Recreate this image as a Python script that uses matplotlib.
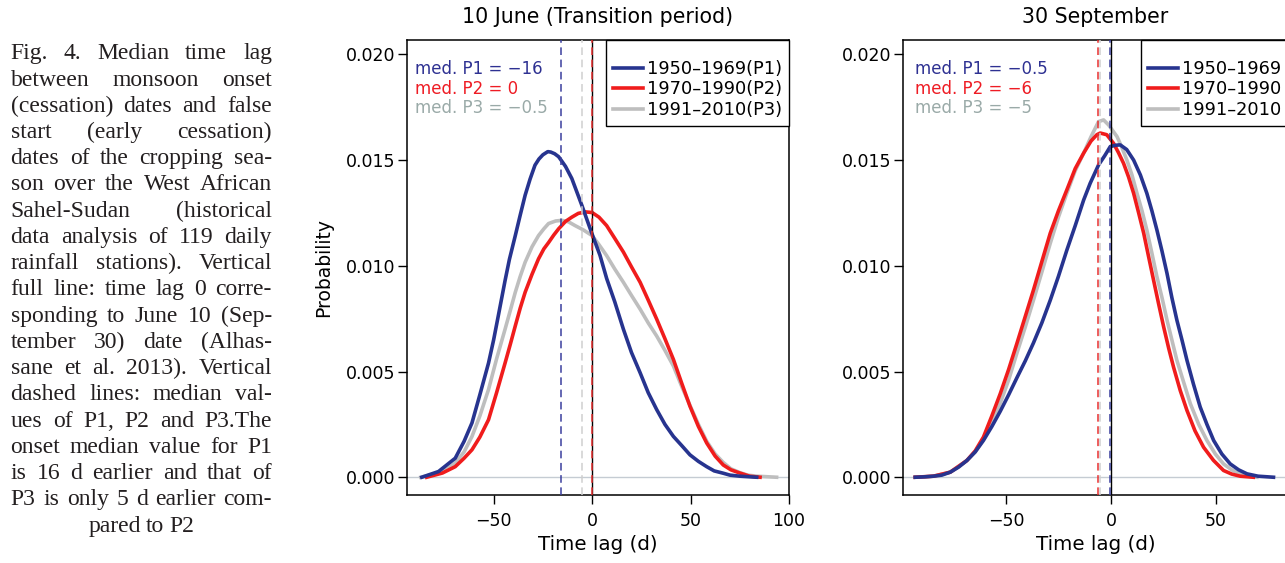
import matplotlib.pyplot as plt
from matplotlib.lines import Line2D

plt.rcParams['font.family'] = 'DejaVu Sans'

# ---- data: time lag (d) vs probability ----
# 10 June panel
jun_p1_x = [-86.5, -78, -69.5, -65, -61, -57, -52.6, -50, -47.5, -44.2,
            -42, -39, -36.5, -34, -31.5, -29, -27, -25, -22.5, -21,
            -19, -17, -15, -13.5, -10.3, -5.2, 0, 4, 7.4, 11.5,
            15.9, 20, 24.4, 28.5, 32.8, 37, 41.3, 45.5, 49.7, 54,
            58.2, 62, 66.6, 70, 75, 83.6]
jun_p1_y = [0, 0.00027, 0.0009, 0.0017, 0.00257, 0.0039, 0.0054, 0.0065, 0.0077, 0.0093,
            0.0103, 0.01143, 0.0124, 0.01334, 0.0141, 0.01476, 0.01505, 0.01525, 0.0154, 0.01538,
            0.0153, 0.01516, 0.0149, 0.0147, 0.01413, 0.01286, 0.0115, 0.0105, 0.0094, 0.0083,
            0.0070, 0.0059, 0.00494, 0.004, 0.0032, 0.0025, 0.00193, 0.0015, 0.00106, 0.00075,
            0.0005, 0.0003, 0.00019, 0.0001, 0.00005, 0]
jun_p2_x = [-84, -80, -76, -69.5, -65, -61, -57, -52.6, -48.5, -44.2,
            -41.5, -39, -36.5, -34, -30.5, -27.2, -24.5, -22.1, -19.5, -17,
            -13.5, -10.3, -7, -3.5, 0, 3.5, 7.4, 11.5, 15.9, 20,
            24.4, 28.5, 32.8, 37, 41.3, 45.5, 49.7, 54, 58.2, 62.5,
            66.6, 70.5, 75, 80, 85.3]
jun_p2_y = [0, 0.0001, 0.0002, 0.0005, 0.0009, 0.0013, 0.0019, 0.00272, 0.004, 0.0054,
            0.0063, 0.00716, 0.008, 0.00875, 0.0096, 0.01033, 0.0108, 0.0111, 0.01145, 0.01175,
            0.0121, 0.0123, 0.01248, 0.01255, 0.01252, 0.0123, 0.0119, 0.0113, 0.01065, 0.00995,
            0.00922, 0.00838, 0.00748, 0.00655, 0.00557, 0.00445, 0.00336, 0.0024, 0.00162, 0.001,
            0.00058, 0.00035, 0.0002, 0.00005, 0]
jun_p3_x = [-87, -78, -73.5, -69.5, -65, -61, -57, -52.6, -48.5, -44.2,
            -41.5, -39, -36.5, -34, -30.5, -27.2, -24.5, -22.1, -18.5, -15.3,
            -12, -8.6, -4.5, 0, 3.5, 7.4, 11.5, 15.9, 20, 24.4,
            28.5, 32.8, 37, 41.3, 45.5, 49.7, 54, 58.2, 62.5, 66.6,
            70.5, 75, 79, 83.6, 93.7]
jun_p3_y = [0, 0.0002, 0.0004, 0.00067, 0.0012, 0.00193, 0.0029, 0.00415, 0.0056, 0.0070,
            0.0079, 0.00875, 0.0095, 0.01017, 0.0109, 0.01143, 0.01175, 0.012, 0.01212, 0.01215,
            0.01208, 0.0119, 0.0117, 0.01143, 0.0110, 0.01048, 0.00985, 0.00922, 0.0086, 0.00795,
            0.0073, 0.00668, 0.006, 0.00526, 0.0043, 0.0034, 0.0025, 0.0017, 0.0011, 0.0007,
            0.0004, 0.00022, 0.0001, 0.00005, 0]

# 30 September panel
sep_p1_x = [-93.2, -88.5, -84.5, -80.5, -76.5, -72.5, -68.6, -64.6, -60.7, -56.7,
            -52.7, -48.7, -44.8, -40.8, -36.9, -32.9, -28.9, -25, -21, -17,
            -13, -9.9, -5.9, -3, -0.3, 2, 4.4, 7.5, 10.8, 14,
            17.1, 19.5, 21.9, 24.3, 26.7, 29, 31.4, 33.8, 36.2, 39.3,
            42.5, 45.7, 48.9, 52.8, 56.8, 60.8, 64.8, 70, 77.4]
sep_p1_y = [0, 0.00002, 0.00005, 0.0001, 0.00024, 0.00048, 0.00079, 0.0012, 0.00174, 0.0024,
            0.00312, 0.0039, 0.0047, 0.0055, 0.00635, 0.0073, 0.00837, 0.0095, 0.01074, 0.0119,
            0.01311, 0.0139, 0.01477, 0.0152, 0.01564, 0.0157, 0.01572, 0.0155, 0.015, 0.0143,
            0.01343, 0.0126, 0.01169, 0.0107, 0.00964, 0.0085, 0.00743, 0.0065, 0.00553, 0.0044,
            0.00332, 0.0025, 0.00174, 0.0011, 0.00063, 0.00035, 0.00016, 0.00005, 0]
sep_p2_x = [-93.2, -84.5, -76.5, -68.6, -64.6, -60.7, -56.7, -52.7, -48.7, -44.8,
            -40.8, -36.9, -32.9, -28.9, -25, -21, -17, -13, -9.5, -6.7,
            -5.1, -2, 1.2, 3.6, 6, 8.4, 10.8, 13.2, 15.6, 18,
            20.3, 22.7, 25.1, 27.5, 29.8, 33, 36.2, 40, 44.1, 48.8,
            53.6, 57.5, 61.5, 67.8]
sep_p2_y = [0, 0.00005, 0.00024, 0.00079, 0.00125, 0.0019, 0.0029, 0.00395, 0.0051, 0.00632,
            0.0076, 0.00885, 0.0102, 0.01154, 0.0126, 0.01359, 0.0146, 0.01533, 0.0159, 0.0162,
            0.01628, 0.0162, 0.0158, 0.01535, 0.01485, 0.0142, 0.01343, 0.0125, 0.01154, 0.0104,
            0.00932, 0.0082, 0.00711, 0.0061, 0.00521, 0.0041, 0.00316, 0.0022, 0.00142, 0.0008,
            0.00032, 0.00015, 0.00005, 0]
sep_p3_x = [-93, -84.5, -76.5, -68.6, -64.6, -60.7, -56.7, -52.7, -48.7, -44.8,
            -40.8, -36.9, -32.9, -28.9, -25, -21, -17, -13, -9.5, -5.9,
            -3.5, -1, 2.9, 5.2, 7.6, 10, 12.4, 14.8, 17.1, 19.5,
            21.9, 24.3, 26.7, 29, 31.4, 34.6, 37.8, 41.8, 45.7, 49.7,
            53.6, 57.5, 61.5, 65.5, 69.5]
sep_p3_y = [0, 0.00005, 0.00024, 0.00079, 0.0012, 0.0018, 0.0026, 0.0035, 0.0046, 0.00586,
            0.0071, 0.00837, 0.0097, 0.01106, 0.0123, 0.01343, 0.0145, 0.01533, 0.0161, 0.01682,
            0.0169, 0.01665, 0.01611, 0.0156, 0.015, 0.0143, 0.01343, 0.0126, 0.01169, 0.0106,
            0.00948, 0.0085, 0.00743, 0.0065, 0.00553, 0.0045, 0.00348, 0.0025, 0.00174, 0.0011,
            0.00063, 0.00035, 0.00016, 0.00005, 0]

jun_medians = [-16, 0, -5]
sep_medians = [-0.5, -6, -5]
jun_med_text = ['med. P1 = \u221216', 'med. P2 = 0', 'med. P3 = \u22120.5']
sep_med_text = ['med. P1 = \u22120.5', 'med. P2 = \u22126', 'med. P3 = \u22125']
jun_labels = ['1950\u20131969(P1)', '1970\u20131990(P2)', '1991\u20132010(P3)']
sep_labels = ['1950\u20131969', '1970\u20131990', '1991\u20132010']
yticks = [0.0, 0.005, 0.010, 0.015, 0.020]

caption = [
    "Fig. 4. Median time lag",
    "between monsoon onset",
    "(cessation) dates and false",
    "start (early cessation)",
    "dates of the cropping sea-",
    "son over the West African",
    "Sahel-Sudan (historical",
    "data analysis of 119 daily",
    "rainfall stations). Vertical",
    "full line: time lag 0 corre-",
    "sponding to June 10 (Sep-",
    "tember 30) date (Alhas-",
    "sane et al. 2013). Vertical",
    "dashed lines: median val-",
    "ues of P1, P2 and P3.The",
    "onset median value for P1",
    "is 16 d earlier and that of",
    "P3 is only 5 d earlier com-",
    "pared to P2",
]

line_colors = ['#27348f', '#f01c1c', '#bebebe']
dash_colors = ['#3a3f9e', '#e83030', '#cfcfcf']
text_colors = ['#2e3192', '#ee1c24', '#9aaaa8']

W, H = 1285, 563
fig = plt.figure(figsize=(W / 100, H / 100), dpi=100)
ax1 = fig.add_axes([407 / W, 68 / H, 382 / W, 455 / H])
ax2 = fig.add_axes([903 / W, 68 / H, 385 / W, 455 / H])

panels = [
    (ax1, [(jun_p1_x, jun_p1_y), (jun_p2_x, jun_p2_y), (jun_p3_x, jun_p3_y)], jun_medians,
     jun_med_text, jun_labels, '10 June (Transition period)', [-50, 0, 50, 100], (-94, 100)),
    (ax2, [(sep_p1_x, sep_p1_y), (sep_p2_x, sep_p2_y), (sep_p3_x, sep_p3_y)], sep_medians,
     sep_med_text, sep_labels, '30 September', [-50, 0, 50], (-99, 84.3)),
]

for ax, curves, meds, med_txt, labels, title, xt, xl in panels:
    ax.axhline(0, color='#c5ccd3', lw=1, zorder=1)
    # draw grey first, blue on top
    for i in [2, 1, 0]:
        ax.plot(curves[i][0], curves[i][1], color=line_colors[i], lw=2.6,
                solid_joinstyle='round', zorder=2)
    ax.axvline(0, color='black', lw=1, zorder=3)
    for i in [2, 0, 1]:
        ax.axvline(meds[i], color=dash_colors[i], lw=1.1, dashes=(5, 3), zorder=4)
    for i, yy in enumerate([0.9363, 0.8934, 0.8505]):
        ax.text(0.021 if ax is ax1 else 0.031, yy, med_txt[i], transform=ax.transAxes,
                color=text_colors[i], fontsize=12, va='center', ha='left')
    handles = [Line2D([], [], color=c, lw=2.6) for c in line_colors]
    ax.legend(handles, labels, loc='upper right', bbox_to_anchor=(1, 1), borderaxespad=0,
              fancybox=False, edgecolor='black', framealpha=1, fontsize=12.8,
              handlelength=1.7, handletextpad=0.2, labelspacing=0.15, borderpad=0.4,
              title=' ', title_fontsize=7).get_frame().set_linewidth(1)
    ax.set_xlim(xl)
    ax.set_ylim(-0.00084, 0.02068)
    ax.set_xticks(xt)
    ax.set_yticks(yticks)
    ax.set_yticklabels(['%.3f' % v for v in yticks])
    ax.tick_params(axis='both', direction='out', length=6.5, width=1, labelsize=12.5)
    ax.tick_params(axis='y', pad=2)
    ax.tick_params(axis='x', pad=6)
    for s in ax.spines.values():
        s.set_linewidth(1.1)
    ax.set_title(title, fontsize=14.8, pad=12)
    ax.set_xlabel('Time lag (d)', fontsize=14.3, labelpad=3)

ax1.set_ylabel('Probability', fontsize=13.5)
ax1.yaxis.set_label_coords(-0.194, 0.5)

# caption, justified like a journal column
renderer = fig.canvas.get_renderer()
x0, x1 = 10.5, 272.0
for n, line in enumerate(caption):
    yb = 1 - (59.3 + n * 26.24) / H
    words = line.split()
    texts = [fig.text(0, yb, w, fontsize=17, family='Liberation Serif', va='baseline',
                      color='#231f20') for w in words]
    widths = [t.get_window_extent(renderer).width for t in texts]
    if n == len(caption) - 1:
        gap = 5.0
        x = (x0 + x1) / 2 - (sum(widths) + gap * (len(words) - 1)) / 2
    else:
        gap = (x1 - x0 - sum(widths)) / (len(words) - 1)
        x = x0
    for t, w in zip(texts, widths):
        t.set_x(x / W)
        x += w + gap

fig.savefig('out.png', dpi=100)
